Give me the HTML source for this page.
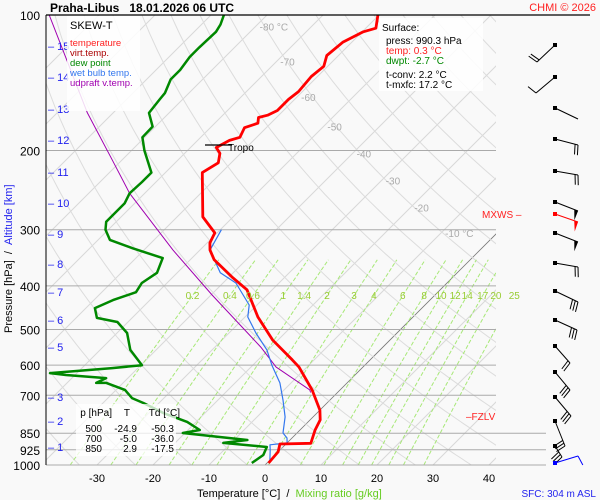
<!DOCTYPE html>
<html><head><meta charset="utf-8"><style>
html,body{margin:0;padding:0;background:#f9f9f9;}
svg{display:block;font-family:"Liberation Sans",sans-serif;}
</style></head><body>
<svg id="c" width="600" height="500" viewBox="0 0 600 500" xmlns="http://www.w3.org/2000/svg">
<defs><clipPath id="plot"><rect x="46" y="15" width="450" height="450"/></clipPath></defs>
<g id="grid" clip-path="url(#plot)"></g>
<g id="isobars"></g>
<g id="series" clip-path="url(#plot)"></g>
<g id="labels"></g>
<g id="barbs"></g>
</svg>
<script>
// ---- data ----
const isobarLevels=[100,200,300,400,500,600,700,850,925,1000];
const tempTicks=[-30,-20,-10,0,10,20,30,40];
const isoLabelTemps=[-80,-70,-60,-50,-40,-30,-20,-10];
const mixRatios=[0.2,0.4,0.6,1,1.4,2,3,4,6,8,10,12,14,17,20,25];
const altKm=[1,2,3,5,6,7,8,9,10,11,12,13,14,15];
const altY=[447,421,397,347,320,292,264,234,203,172,140,109,77,46];
const tempP=[990,935,898,895,836,794,755,681,606,584,528,469,408,382,350,333,321,305,281,224,213,203,197,190,187,178,174,169,167,163,154,148,137,130,123,115,109,107,100];
const tempT=[0.3,0,-1.1,4.3,2.7,1.8,0,-5,-11.4,-13.9,-20.9,-27.7,-34.5,-39.5,-45.7,-48.2,-49.5,-50.4,-55.4,-63.4,-62.3,-63.7,-65.4,-64.3,-63,-63.9,-62.3,-63.2,-62,-61.1,-61.1,-60.7,-61.1,-60.7,-62.1,-61.6,-59.8,-58.2,-60.2];
const dewP=[990,950,912,893,880,849,836,802,766,728,710,681,657,657,641,631,625,609,600,555,509,481,471,448,430,413,394,374,347,330,316,300,288,275,262,249,235,224,200,187,177,165,154,149,139,132.5,124,118,109,105,100];
const dewT=[-2.7,-2.1,-2.9,-11.4,-7.6,-20.4,-17.9,-21.6,-27.5,-32.8,-35.7,-38.4,-43,-44.8,-43.9,-51.6,-54.8,-44.6,-39.8,-44.6,-48.2,-51.9,-56.3,-58.4,-56.6,-53.9,-54.5,-53.6,-55.2,-62.3,-67.9,-70.5,-71.8,-71.8,-71.8,-72.7,-72.5,-72.5,-77.7,-80.4,-80.5,-83.6,-84.1,-84.3,-85.7,-85.7,-86.3,-86.3,-86.1,-86.6,-87.7];
const wbP=[990,925,902,893,871,849,782,717,657,600,555,509,469,441,394,374,333,300];
const wbT=[0.5,-1.8,-2.7,0,-0.9,-2.5,-5,-8.4,-12,-16.6,-20.2,-25.2,-29.5,-31.4,-37.7,-42.3,-48.2,-49.8];
const parcelP=[690,681,606,547,419,333,249,207,165,100];
const parcelT=[-4.8,-5.4,-15.5,-21.8,-39.8,-54.8,-72.7,-82.5,-94.6,-118.9];

// ---- axes ----
const yP=p=>15+450*Math.log10(p/100);
const xT=(t,p)=>265+5.6*t+(465-yP(p));
const NS="http://www.w3.org/2000/svg";
function mk(tag,attrs,parent,text){const e=document.createElementNS(NS,tag);for(const k in attrs)e.setAttribute(k,attrs[k]);if(text!==undefined)e.textContent=text;parent.appendChild(e);return e;}
const grid=document.getElementById('grid'),iso=document.getElementById('isobars'),ser=document.getElementById('series'),lab=document.getElementById('labels'),brb=document.getElementById('barbs');

for(let t=-160;t<=40;t+=10){
 const l=mk('line',{x1:xT(t,1050),y1:yP(1050),x2:xT(t,90),y2:yP(90),stroke:t===0?'#777':'#d8d8d8','stroke-width':t===0?0.8:1},grid);
 
 
}
for(let th=200;th<=480;th+=10){
 let pts=[];for(let p=1050;p>=90;p-=10){const t=th*Math.pow(p/1000,0.286)-273.15;pts.push(xT(t,p).toFixed(1)+','+yP(p).toFixed(1));}
 const pl=mk('polyline',{points:pts.join(' '),fill:'none',stroke:'#dcdcdc','stroke-width':1},grid);
 
 
}
function tdFromW(w,p){const e=w*p/(622+w);const a=Math.log(e/6.112);return 243.5*a/(17.67-a);}
mixRatios.forEach(w=>{
 const pts=[];for(let p=1000;p>=350;p-=10)pts.push(xT(tdFromW(w,p),p).toFixed(1)+','+yP(p).toFixed(1));
 const pl=mk('polyline',{points:pts.join(' '),fill:'none',stroke:'#a8e878','stroke-width':1,'stroke-dasharray':'4,2'},grid);
 
 
 const tx=mk('text',{x:xT(tdFromW(w,420),420),y:299,'font-size':10,fill:'#99cc33','text-anchor':'middle'},lab,String(w));
 
 
});
isobarLevels.forEach(p=>{
 const y=yP(p);const x2=p===100?590:(p>=850?546:496);
 if(p!==100){const l=mk('line',{x1:46,y1:y,x2:x2,y2:y,stroke:'#aaa','stroke-width':1},iso);
 
 }
 const t=mk('text',{x:40,y:y+5,'font-size':12,'text-anchor':'end',fill:'#000'},lab,String(p));
 
 
});
mk('line',{x1:46,y1:15,x2:590,y2:15,stroke:'#000','stroke-width':1.2},lab);
mk('line',{x1:46,y1:15,x2:46,y2:465,stroke:'#000','stroke-width':1},lab);
tempTicks.forEach(t=>{
 const tx=mk('text',{x:xT(t,1000),y:482,'font-size':11,'text-anchor':'middle',fill:'#000'},lab,String(t));
 
 
});
isoLabelTemps.forEach((t,i)=>{
 const p=[106,127,152,177,203,233,268,305][i];
 const tx=mk('text',{x:xT(t,p)+4,y:yP(p)+4,'font-size':10,fill:'#aaa'},lab,(i===0||i===7)?t+' °C':String(t));
 
 
});
altKm.forEach((k,i)=>{
 const tx=mk('text',{x:48,y:altY[i]+4,'font-size':11,fill:'#2222ee'},lab,'– '+k);
 
 
});
function line(P,T,color,w,name){
 const pts=P.map((p,i)=>xT(T[i],p).toFixed(1)+','+yP(p).toFixed(1)).join(' ');
 const pl=mk('polyline',{points:pts,fill:'none',stroke:color,'stroke-width':w,'stroke-linejoin':'round'},ser);
 
 
}
line(parcelP,parcelT,'#a000b0',1,'updraft-virtual-temperature-line');
line(wbP,wbT,'#3377ee',1.2,'wet-bulb-line');
line(dewP,dewT,'#008800',2.5,'dewpoint-line');
line(tempP,tempT,'#a00000',1,'virtual-temperature-line');
line(tempP,tempT,'#ff0000',2.8,'temperature-line');
</script>
<svg width="600" height="500" style="position:absolute;left:0;top:0" xmlns="http://www.w3.org/2000/svg" font-family="Liberation Sans, sans-serif">
<text x="50" y="12" font-size="12" font-weight="bold">Praha-Libus&#160;&#160;&#160;18.01.2026 06 UTC</text>
<text x="596" y="11" font-size="11" fill="#ff2222" text-anchor="end">CHMI © 2026</text>
<rect x="67" y="16" width="73" height="95" fill="#fff" opacity="0.85"/>
<text x="70" y="29" font-size="11">SKEW-T</text>
<text x="70" y="46" font-size="9.5" fill="#ff2222">temperature</text>
<text x="70" y="56" font-size="9.5" fill="#aa0000">virt.temp.</text>
<text x="70" y="66" font-size="9.5" fill="#008800">dew point</text>
<text x="70" y="76" font-size="9.5" fill="#3377ee">wet bulb temp.</text>
<text x="70" y="86" font-size="9.5" fill="#a000b0">udpraft v.temp.</text>
<rect x="379" y="18" width="104" height="73" fill="#fff" opacity="0.85"/>
<text x="382" y="31" font-size="10">Surface:</text>
<text x="386" y="44" font-size="10">press: 990.3 hPa</text>
<text x="386" y="54" font-size="10" fill="#ff2222">temp: 0.3 °C</text>
<text x="386" y="64" font-size="10" fill="#008800">dwpt: -2.7 °C</text>
<text x="386" y="78" font-size="10">t-conv: 2.2 °C</text>
<text x="386" y="88" font-size="10">t-mxfc: 17.2 °C</text>
<line x1="205" y1="145" x2="232" y2="145" stroke="#000" stroke-width="1.2"/>
<text x="228" y="151" font-size="10">Tropo</text>
<text x="482" y="218" font-size="10" fill="#ff2222">MXWS –</text>
<text x="466" y="420" font-size="10" fill="#ff2222">–FZLV</text>
<rect x="76" y="404" width="100" height="52" fill="#fff" opacity="0.75"/>
<g font-size="10" text-anchor="end">
<text x="112" y="416">p [hPa]</text><text x="130" y="416">T</text><text x="180" y="416">Td [°C]</text>
<text x="102" y="432">500</text><text x="137" y="432">-24.9</text><text x="174" y="432">-50.3</text>
<text x="102" y="442">700</text><text x="137" y="442">-5.0</text><text x="174" y="442">-36.0</text>
<text x="102" y="452">850</text><text x="137" y="452">2.9</text><text x="174" y="452">-17.5</text>
</g>
<text transform="translate(12,333) rotate(-90)" font-size="11">Pressure [hPa]&#160;&#160;/&#160;&#160;<tspan fill="#2222ee">Altitude [km]</tspan></text>
<text x="197" y="497" font-size="11">Temperature [°C]&#160;&#160;/&#160;&#160;<tspan fill="#66cc22">Mixing ratio [g/kg]</tspan></text>
<text x="596" y="497" font-size="10" fill="#2222ee" text-anchor="end">SFC: 304 m ASL</text>
<g id="barbs2"></g>
</svg>
<script>
const barbY=[45,77,108,139,171,202,214,233,263,291,320,346,372,397,421,446,463];
const barbEndX=[537,536,578,578,578,578,578,578,578,578,577,570,570,571,565,562,578];
const barbEndY=[62,93,119,145,175,211,222,242,267,302,330,363,390,416,446,457,456];
const barbCount=[2,1,0,2,2,5,5,5,2,3,3,2,3,3,3,3,1];
const barbUp=[1,1,0,0,0,0,0,0,0,0,0,0,0,0,0,0,0];
const barbColor=['#000','#000','#000','#000','#000','#000','#f00','#000','#000','#000','#000','#000','#000','#000','#000','#000','#00f'];
(function(){
 const NS="http://www.w3.org/2000/svg";const g=document.getElementById('barbs2');
 barbY.forEach((y,i)=>{
  const x0=555,x1=barbEndX[i],y1=barbEndY[i],c=barbColor[i];
  const gg=document.createElementNS(NS,'g');
  
  
  g.appendChild(gg);
  const mkE=(tag,a)=>{const e=document.createElementNS(NS,tag);for(const k in a)e.setAttribute(k,a[k]);gg.appendChild(e);};
  mkE('rect',{x:x0-2,y:y-2,width:4,height:4,fill:c});
  mkE('line',{x1:x0,y1:y,x2:x1,y2:y1,stroke:c,'stroke-width':1});
  const dx=x1-x0,dy=y1-y,L=Math.hypot(dx,dy),ux=dx/L,uy=dy/L;
  let nx=-uy,ny=ux; if(ny<0){nx=-nx;ny=-ny;}
  if(barbUp[i]){nx=-nx;ny=-ny;}
  if(barbCount[i]===5){
   mkE('polygon',{points:`${x1},${y1} ${x1-ux*4},${y1-uy*4} ${x1+nx*10},${y1+ny*10}`,fill:c});
  } else {
   for(let k=0;k<barbCount[i];k++){
    const bx=x1-ux*3*k,by=y1-uy*3*k;
    mkE('line',{x1:bx,y1:by,x2:bx+nx*10+ux*2,y2:by+ny*10+uy*2,stroke:c,'stroke-width':1});
   }
  }
 });
})();
</script>
</body></html>
